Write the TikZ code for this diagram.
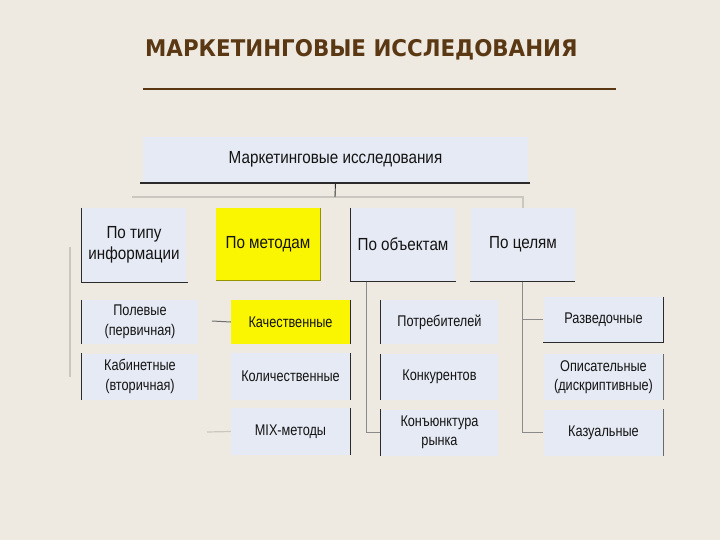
\documentclass[tikz,border=0pt]{standalone}
\usepackage{fontspec}
\setmainfont[FakeStretch=0.92]{Liberation Sans}
\newfontfamily\titlefont[FakeStretch=0.93]{DejaVu Sans}
\newfontfamily\lvtwo[FakeStretch=0.87]{Liberation Sans}
\newfontfamily\lvthree[FakeStretch=0.82]{Liberation Sans}
\definecolor{bgc}{HTML}{EEEAE1}
\definecolor{boxc}{HTML}{E6EAF4}
\definecolor{yel}{HTML}{FAF500}
\definecolor{brn}{HTML}{5A3814}
\definecolor{edge}{HTML}{2A2A2A}
\definecolor{conn}{HTML}{8A8A8A}
\definecolor{faint}{HTML}{C9C7C0}
\tikzset{
  bx/.style={fill=boxc, draw=none, inner sep=0pt, align=center, text=black!92, font=\lvthree\fontsize{15.5}{19.5}\selectfont},
  ybx/.style={bx, fill=yel},
  big/.style={font=\lvtwo\fontsize{17.5}{21}\selectfont},
  ed/.style={draw=edge, line width=1.1pt},
  cn/.style={draw=conn, line width=1pt},
  fn/.style={draw=faint, line width=1.2pt},
}
\begin{document}
\begin{tikzpicture}[x=1pt,y=-1pt]
\fill[bgc] (0,0) rectangle (720,540);
\useasboundingbox (0,0) rectangle (720,540);
% title
\node[anchor=base west, inner sep=0pt, text=brn, font=\titlefont\bfseries\fontsize{23}{26}\selectfont] (title) at (145,57) {МАРКЕТИНГОВЫЕ ИССЛЕДОВАНИЯ};
\coordinate (ul1) at (143,89);
\coordinate (ul2) at (616,89);
\draw[brn, line width=2pt] (ul1) -- (ul2);
% top box
\node[bx, big, minimum width=385pt, minimum height=45pt] (top) at (335.5,159.5) {Маркетинговые исследования};
% level 2
\node[bx, big, minimum width=104pt, minimum height=74pt] (t1) at (134,245) {По типу\\информации};
\node[ybx, big, minimum width=104pt, minimum height=72pt] (t2) at (268,244) {По методам};
\node[bx, big, minimum width=104pt, minimum height=73pt] (t3) at (403,244.5) {По объектам};
\node[bx, big, minimum width=104pt, minimum height=73pt] (t4) at (523,244.5) {По целям};
% level 3
\node[bx, minimum width=116pt, minimum height=44pt] (a1) at (140,322) {Полевые\\(первичная)};
\node[bx, minimum width=116pt, minimum height=46pt] (a2) at (140,376.5) {Кабинетные\\(вторичная)};
\node[ybx, minimum width=119pt, minimum height=44pt] (b1) at (290.5,322) {Качественные};
\node[bx, minimum width=119pt, minimum height=47pt] (b2) at (290.5,376.5) {Количественные};
\node[bx, minimum width=119pt, minimum height=47pt] (b3) at (290.5,431.5) {MIX-методы};
\node[bx, minimum width=117pt, minimum height=44pt] (c1) at (439.5,322) {Потребителей};
\node[bx, minimum width=117pt, minimum height=46pt] (c2) at (439.5,377) {Конкурентов};
\node[bx, minimum width=117pt, minimum height=46pt] (c3) at (439.5,432.5) {Конъюнктура\\рынка};
\node[bx, minimum width=120pt, minimum height=45pt] (d1) at (603.5,319.5) {Разведочные};
\node[bx, minimum width=120pt, minimum height=46pt] (d2) at (603.5,377) {Описательные\\(дискриптивные)};
\node[bx, minimum width=120pt, minimum height=46pt] (d3) at (603.5,432.5) {Казуальные};
% connectors
\coordinate (hl) at (132,197);
\coordinate (hm) at (335,197);
\coordinate (lv1) at (70,247);
\coordinate (lv2) at (70,377);
\draw[fn] (hl) -| (t4.north);
\draw[edge, line width=0.9pt] (top.south) -- (hm);
\draw[fn] (lv1) -- (lv2);
\coordinate (v3) at (366,282);
\draw[cn] (v3) |- (c3.west);
\coordinate (v4) at (522,282);
\draw[cn] (v4) |- (d3.west);
\draw[cn] (v4 |- d1.west) -- (d1.west);
\coordinate (s1) at (212,321);
\draw[conn!80!black, line width=1pt] (s1) -- (b1.west);
\coordinate (s3) at (207,432);
\draw[fn] (s3) -- (b3.west);
% partial box edges
\draw[ed] (140,183) -- (530,183);
\draw[ed] (t1.north west) -- (t1.south west) -- ([xshift=2pt]t1.south east);
\draw[draw=yel!60!black, line width=0.8pt] (t2.north east) -- (t2.south east) -- (t2.south west);
\draw[ed] (t3.north west) -- (t3.south west) -- ([xshift=1pt]t3.south east);
\draw[ed] ([xshift=-1pt]t4.south west) -- (t4.south east);
\draw[ed] (a1.north west) -- (a1.south west);
\draw[ed] (a2.north west) -- (a2.south west);
\draw[ed] (b1.north east) -- (b1.south east);
\draw[ed] (b2.north east) -- (b2.south east);
\draw[ed] (b3.north east) -- (b3.south east);
\draw[ed] (c1.north west) -- (c1.south west);
\draw[ed] (c2.north west) -- (c2.south west);
\draw[ed] (c3.north west) -- (c3.south west);
\draw[ed] (d1.north east) -- (d1.south east) -- (d1.south west);
\draw[draw=edge!70, line width=1pt] (d2.north east) -- (d2.south east);
\draw[draw=edge!70, line width=1pt] (d3.north east) -- (d3.south east);
\end{tikzpicture}
\end{document}
